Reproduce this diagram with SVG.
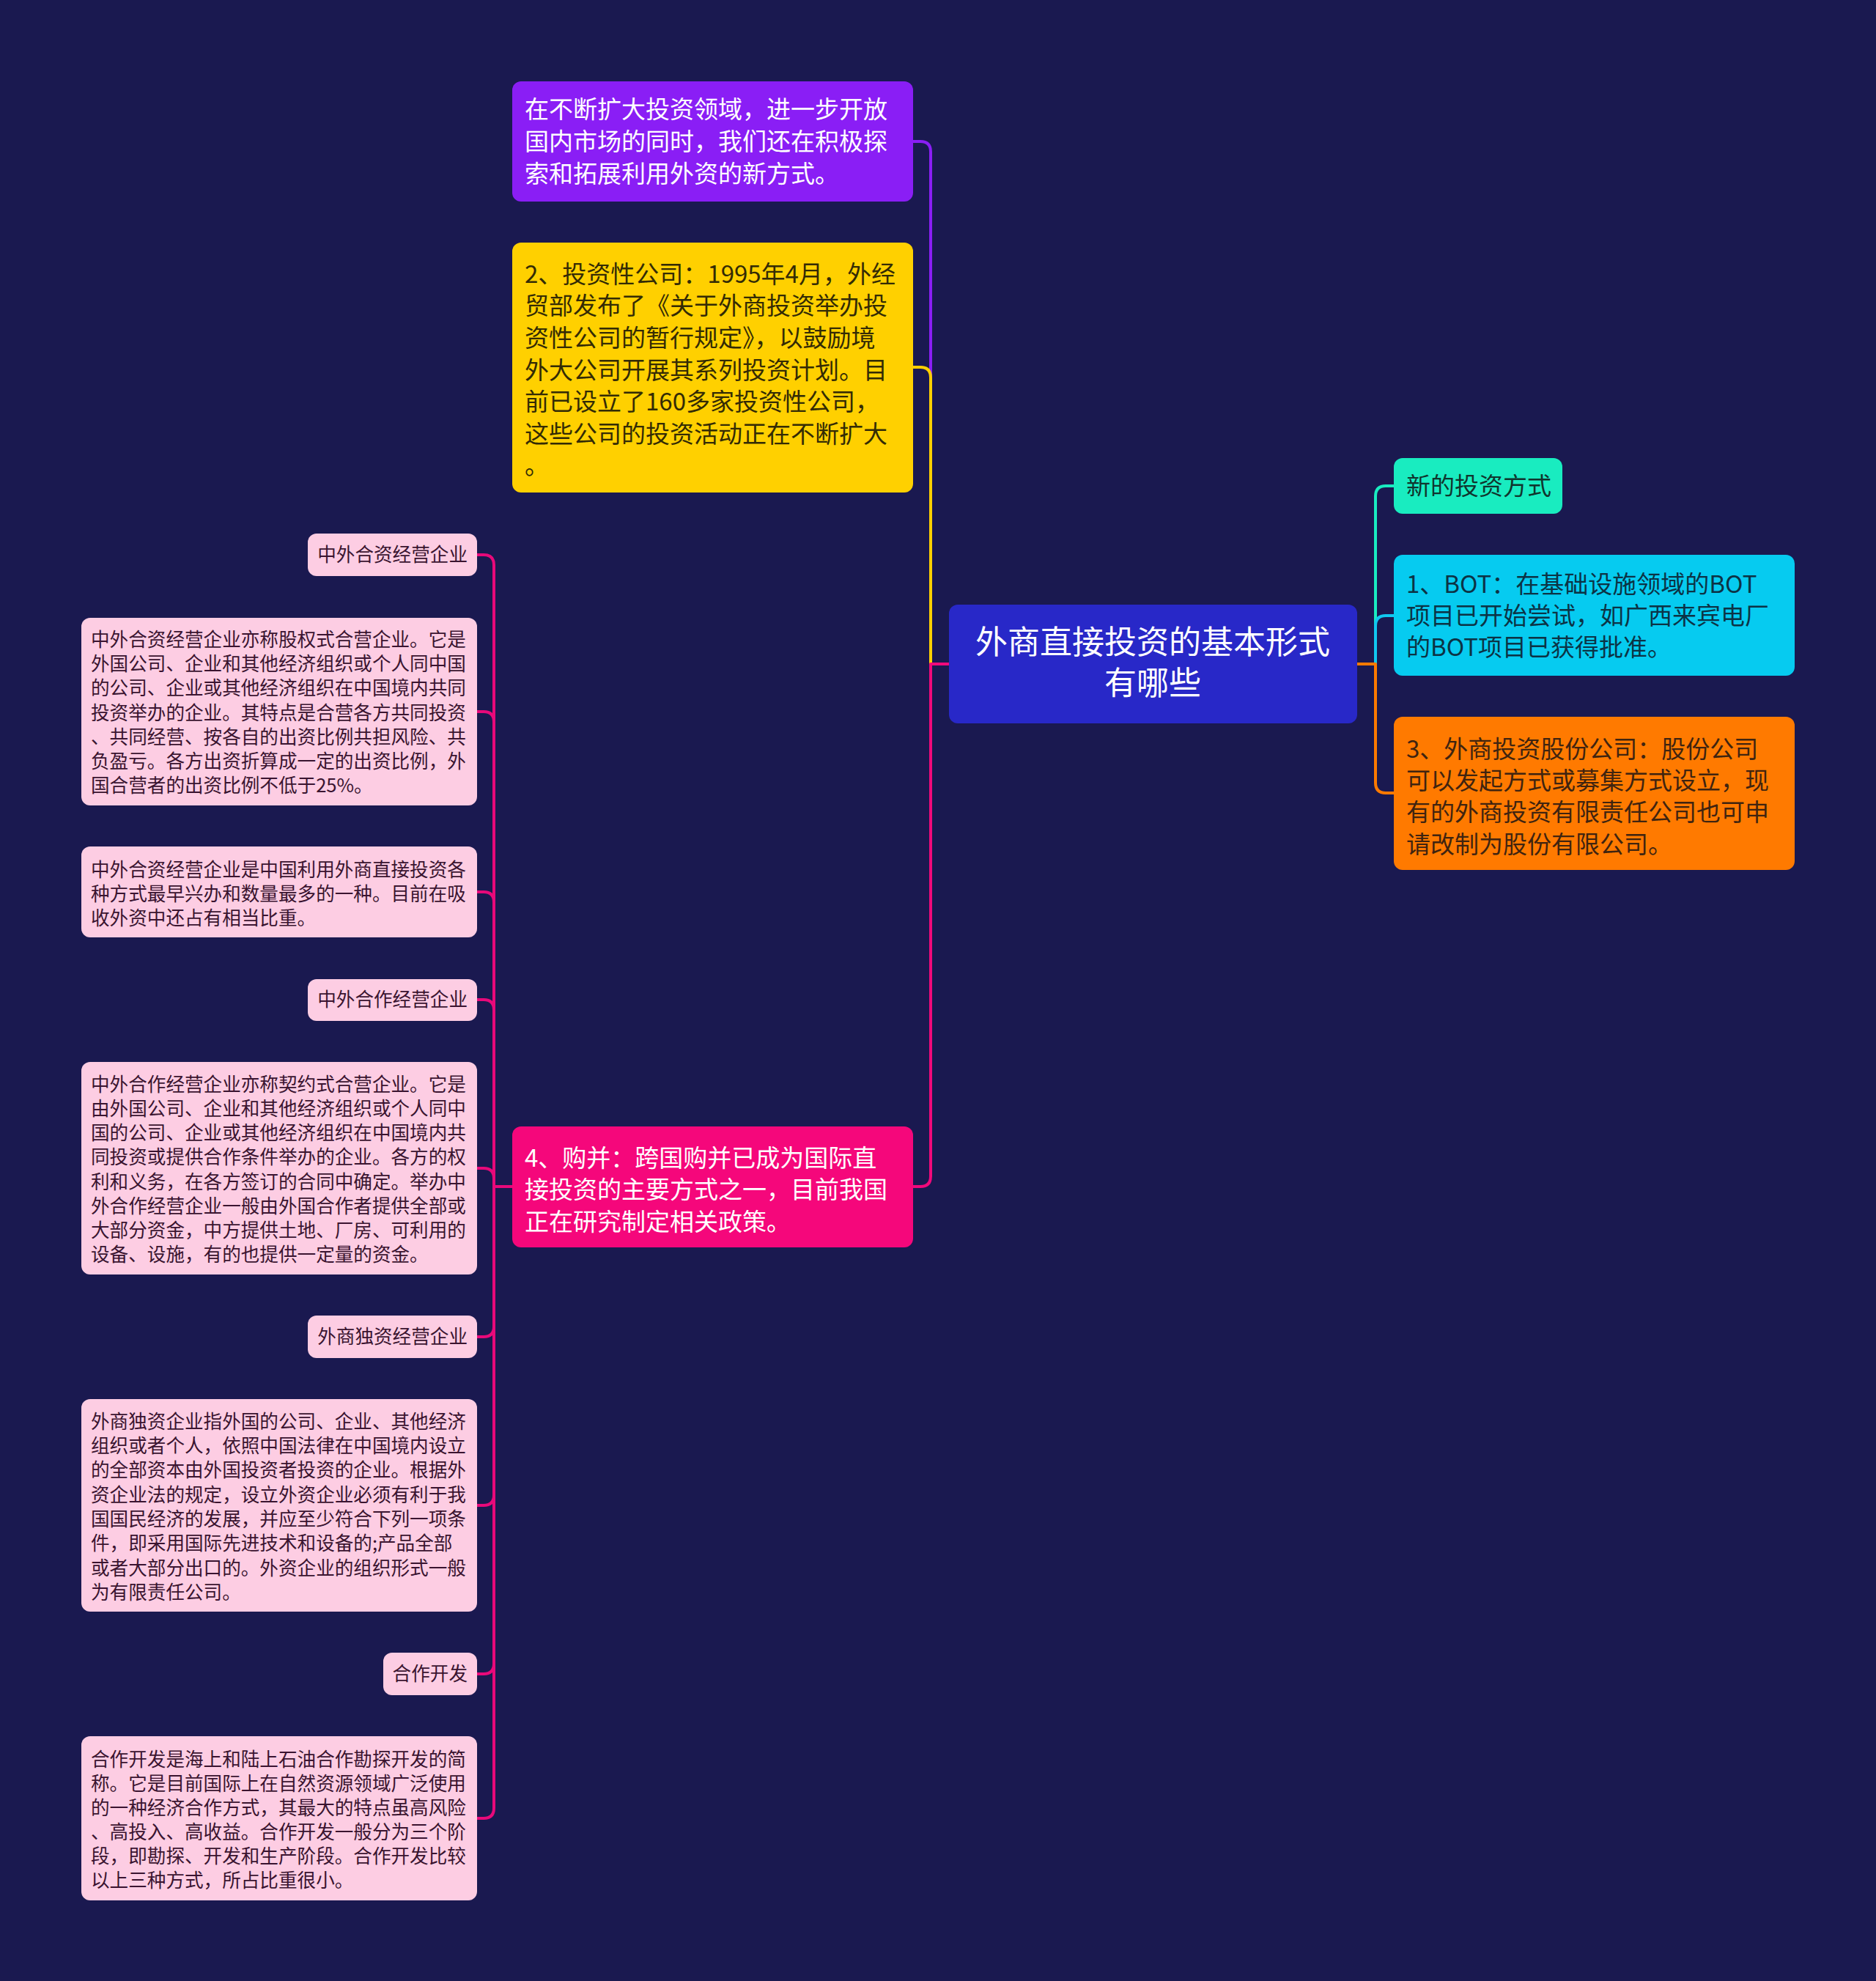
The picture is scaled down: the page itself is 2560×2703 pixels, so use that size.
<svg xmlns="http://www.w3.org/2000/svg" width="2560" height="2703" viewBox="0 0 2560 2703">
<style>
text { font-family: "Noto Sans CJK SC", "Noto Sans", sans-serif; }
.t33 { font-size: 33px; }
.t44 { font-size: 44px; }
.t26 { font-size: 25.6px; fill: #3a1430; }
.c { fill: none; stroke-width: 4; stroke-linecap: round; stroke-linejoin: round; }
</style>
<rect x="0" y="0" width="2560" height="2703" fill="#1a1950"/>
<g id="connectors">
  <path class="c" stroke="#8a1ef5" d="M1295 906 H1270 V207 Q1270 193 1256 193 H1246"/>
  <path class="c" stroke="#ffd000" d="M1295 906 H1270 V515 Q1270 501 1256 501 H1246"/>
  <path class="c" stroke="#f0097b" d="M1295 906 H1270 V1605 Q1270 1619 1256 1619 H1246"/>
  <path class="c" stroke="#19ecc0" d="M1852 906 H1877 V677 Q1877 663 1891 663 H1902"/>
  <path class="c" stroke="#10c8f0" d="M1852 906 H1877 V854 Q1877 840 1891 840 H1902"/>
  <path class="c" stroke="#ff7a00" d="M1852 906 H1877 V1068 Q1877 1082 1891 1082 H1902"/>
  <g stroke="#e8097a">
    <path class="c" d="M699 1619 H674 V771 Q674 757 660 757 H651"/>
    <path class="c" d="M699 1619 H674 V985 Q674 971 660 971 H651"/>
    <path class="c" d="M699 1619 H674 V1231 Q674 1217 660 1217 H651"/>
    <path class="c" d="M699 1619 H674 V1378 Q674 1364 660 1364 H651"/>
    <path class="c" d="M699 1619 H674 V1608 Q674 1594 660 1594 H651"/>
    <path class="c" d="M699 1619 H674 V1810 Q674 1824 660 1824 H651"/>
    <path class="c" d="M699 1619 H674 V2040 Q674 2054 660 2054 H651"/>
    <path class="c" d="M699 1619 H674 V2270 Q674 2284 660 2284 H651"/>
    <path class="c" d="M699 1619 H674 V2467 Q674 2481 660 2481 H651"/>
  </g>
</g>
<g id="center">
  <rect x="1295" y="825" width="557" height="162" rx="12" fill="#2828c8"/>
  <text class="t44" fill="#ffffff" text-anchor="middle"><tspan x="1573" y="892">外商直接投资的基本形式</tspan><tspan x="1573" y="948">有哪些</tspan></text>
</g>
<g id="n-purple">
  <rect x="699" y="111" width="547" height="164" rx="12" fill="#8a1ef5"/>
  <text class="t33" fill="#ffffff"><tspan x="716" y="161">在不断扩大投资领域，进一步开放</tspan><tspan x="716" y="205">国内市场的同时，我们还在积极探</tspan><tspan x="716" y="249">索和拓展利用外资的新方式。</tspan></text>
</g>
<g id="n-yellow">
  <rect x="699" y="331" width="547" height="341" rx="12" fill="#ffd000"/>
  <text class="t33" fill="#332b05"><tspan x="716" y="386">2、投资性公司：1995年4月，外经</tspan><tspan x="716" y="429">贸部发布了《关于外商投资举办投</tspan><tspan x="716" y="473">资性公司的暂行规定》，以鼓励境</tspan><tspan x="716" y="517">外大公司开展其系列投资计划。目</tspan><tspan x="716" y="560">前已设立了160多家投资性公司，</tspan><tspan x="716" y="604">这些公司的投资活动正在不断扩大</tspan><tspan x="716" y="647">。</tspan></text>
</g>
<g id="n-pink">
  <rect x="699" y="1537" width="547" height="165" rx="12" fill="#f5077b"/>
  <text class="t33" fill="#ffffff"><tspan x="716" y="1592">4、购并：跨国购并已成为国际直</tspan><tspan x="716" y="1635">接投资的主要方式之一，目前我国</tspan><tspan x="716" y="1679">正在研究制定相关政策。</tspan></text>
</g>
<g id="n-new">
  <rect x="1902" y="625" width="230" height="76" rx="12" fill="#19ecc0"/>
  <text class="t33" fill="#10352e"><tspan x="1919" y="675">新的投资方式</tspan></text>
</g>
<g id="n-bot">
  <rect x="1902" y="757" width="547" height="165" rx="12" fill="#06cbf0"/>
  <text class="t33" fill="#0c3345"><tspan x="1919" y="809">1、BOT：在基础设施领域的BOT</tspan><tspan x="1919" y="852">项目已开始尝试，如广西来宾电厂</tspan><tspan x="1919" y="895">的BOT项目已获得批准。</tspan></text>
</g>
<g id="n-orange">
  <rect x="1902" y="978" width="547" height="209" rx="12" fill="#ff7a00"/>
  <text class="t33" fill="#3f2410"><tspan x="1919" y="1034">3、外商投资股份公司：股份公司</tspan><tspan x="1919" y="1077">可以发起方式或募集方式设立，现</tspan><tspan x="1919" y="1120">有的外商投资有限责任公司也可申</tspan><tspan x="1919" y="1164">请改制为股份有限公司。</tspan></text>
</g>
<g id="c1">
  <rect x="420" y="728" width="231" height="58" rx="12" fill="#fdcde3"/>
  <text class="t26" text-anchor="end"><tspan x="638" y="766">中外合资经营企业</tspan></text>
</g>
<g id="c1d">
  <rect x="111" y="843" width="540" height="256" rx="12" fill="#fdcde3"/>
  <text class="t26"><tspan x="124" y="882">中外合资经营企业亦称股权式合营企业。它是</tspan><tspan x="124" y="915">外国公司、企业和其他经济组织或个人同中国</tspan><tspan x="124" y="948">的公司、企业或其他经济组织在中国境内共同</tspan><tspan x="124" y="982">投资举办的企业。其特点是合营各方共同投资</tspan><tspan x="124" y="1015">、共同经营、按各自的出资比例共担风险、共</tspan><tspan x="124" y="1048">负盈亏。各方出资折算成一定的出资比例，外</tspan><tspan x="124" y="1081">国合营者的出资比例不低于25%。</tspan></text>
</g>
<g id="c1e">
  <rect x="111" y="1155" width="540" height="124" rx="12" fill="#fdcde3"/>
  <text class="t26"><tspan x="124" y="1196">中外合资经营企业是中国利用外商直接投资各</tspan><tspan x="124" y="1229">种方式最早兴办和数量最多的一种。目前在吸</tspan><tspan x="124" y="1262">收外资中还占有相当比重。</tspan></text>
</g>
<g id="c2">
  <rect x="420" y="1336" width="231" height="57" rx="12" fill="#fdcde3"/>
  <text class="t26" text-anchor="end"><tspan x="638" y="1373">中外合作经营企业</tspan></text>
</g>
<g id="c2d">
  <rect x="111" y="1449" width="540" height="290" rx="12" fill="#fdcde3"/>
  <text class="t26"><tspan x="124" y="1489">中外合作经营企业亦称契约式合营企业。它是</tspan><tspan x="124" y="1522">由外国公司、企业和其他经济组织或个人同中</tspan><tspan x="124" y="1555">国的公司、企业或其他经济组织在中国境内共</tspan><tspan x="124" y="1588">同投资或提供合作条件举办的企业。各方的权</tspan><tspan x="124" y="1622">利和义务，在各方签订的合同中确定。举办中</tspan><tspan x="124" y="1655">外合作经营企业一般由外国合作者提供全部或</tspan><tspan x="124" y="1688">大部分资金，中方提供土地、厂房、可利用的</tspan><tspan x="124" y="1721">设备、设施，有的也提供一定量的资金。</tspan></text>
</g>
<g id="c3">
  <rect x="420" y="1795" width="231" height="58" rx="12" fill="#fdcde3"/>
  <text class="t26" text-anchor="end"><tspan x="638" y="1833">外商独资经营企业</tspan></text>
</g>
<g id="c3d">
  <rect x="111" y="1909" width="540" height="290" rx="12" fill="#fdcde3"/>
  <text class="t26"><tspan x="124" y="1949">外商独资企业指外国的公司、企业、其他经济</tspan><tspan x="124" y="1982">组织或者个人，依照中国法律在中国境内设立</tspan><tspan x="124" y="2015">的全部资本由外国投资者投资的企业。根据外</tspan><tspan x="124" y="2049">资企业法的规定，设立外资企业必须有利于我</tspan><tspan x="124" y="2082">国国民经济的发展，并应至少符合下列一项条</tspan><tspan x="124" y="2115">件，即采用国际先进技术和设备的;产品全部</tspan><tspan x="124" y="2149">或者大部分出口的。外资企业的组织形式一般</tspan><tspan x="124" y="2182">为有限责任公司。</tspan></text>
</g>
<g id="c4">
  <rect x="523" y="2255" width="128" height="58" rx="12" fill="#fdcde3"/>
  <text class="t26" text-anchor="end"><tspan x="638" y="2293">合作开发</tspan></text>
</g>
<g id="c4d">
  <rect x="111" y="2369" width="540" height="224" rx="12" fill="#fdcde3"/>
  <text class="t26"><tspan x="124" y="2410">合作开发是海上和陆上石油合作勘探开发的简</tspan><tspan x="124" y="2443">称。它是目前国际上在自然资源领域广泛使用</tspan><tspan x="124" y="2476">的一种经济合作方式，其最大的特点虽高风险</tspan><tspan x="124" y="2509">、高投入、高收益。合作开发一般分为三个阶</tspan><tspan x="124" y="2542">段，即勘探、开发和生产阶段。合作开发比较</tspan><tspan x="124" y="2575">以上三种方式，所占比重很小。</tspan></text>
</g>
</svg>
